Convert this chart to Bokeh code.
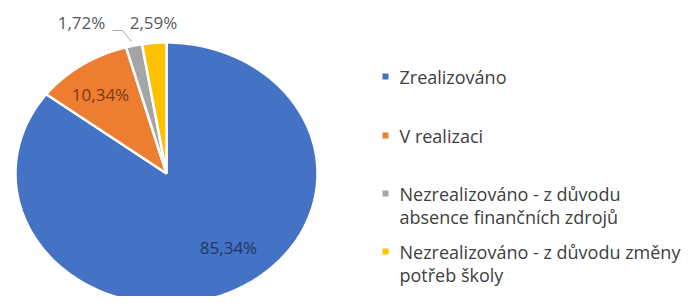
import numpy as np
from bokeh.plotting import figure
from bokeh.models import Range1d
from bokeh.core.properties import value
from bokeh.embed import file_html
from bokeh.resources import INLINE

categories = ["Zrealizováno", "V realizaci",
              "Nezrealizováno - z důvodu\nabsence finančních zdrojů",
              "Nezrealizováno - z důvodu změny\npotřeb školy"]
shares = [85.34, 10.34, 1.72, 2.59]
labels = ["85,34%", "10,34%", "1,72%", "2,59%"]
colors = ["#4472C4", "#ED7D31", "#A5A5A5", "#FFC000"]

W, H = 684, 296
CX, CY, RX, RY = 166, 173, 151, 131

p = figure(width=W, height=H, output_backend="svg", toolbar_location=None,
           x_range=Range1d(0, W), y_range=Range1d(H, 0), min_border=0)
p.axis.visible = False
p.grid.visible = False
p.outline_line_color = None
p.background_fill_color = "white"

vals = np.array(shares)
frac = vals / vals.sum()
ends = np.cumsum(frac) * 2 * np.pi
starts = ends - frac * 2 * np.pi
xs, ys = [], []
for a0, a1 in zip(starts, ends):
    t = np.linspace(a0, a1, 200)
    xs.append(np.concatenate([[CX], CX + RX * np.sin(t)]).tolist())
    ys.append(np.concatenate([[CY], CY - RY * np.cos(t)]).tolist())
p.patches(xs, ys, fill_color=colors, line_color="white", line_width=2.5)

# data labels
lab_x = [228, 100, 81, 153]
lab_y = [247, 94, 22, 22]
lab_c = ["#1F3864", "#7A3A12", "#595959", "#595959"]
p.text(x=lab_x, y=lab_y, text=labels, text_color=lab_c,
       text_font=value("Open Sans"), text_font_size="17px",
       text_align="center", text_baseline="middle")
# leader line for 1,72%
p.line(x=[112, 122, 131], y=[30, 30, 41], line_color="#A6A6A6", line_width=1)

# legend
leg_y = [76, 135, 193, 251]
line_gap = 23
p.scatter(x=[385] * 4, y=leg_y, marker="square", size=6, fill_color=colors,
          line_color=None)
tx, ty, tt = [], [], []
for cat, y0 in zip(categories, leg_y):
    for i, line in enumerate(cat.split("\n")):
        tx.append(399)
        ty.append(y0 + i * line_gap)
        tt.append(line)
p.text(x=tx, y=ty, text=tt, text_color="#404040",
       text_font=value("Open Sans"), text_font_size="18px",
       text_align="left", text_baseline="middle")

open("out.html", "w").write(file_html(p, INLINE))
